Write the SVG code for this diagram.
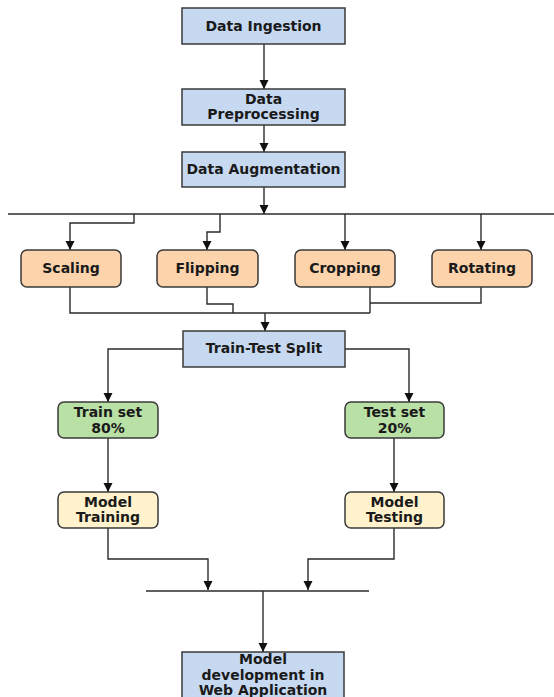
<svg xmlns="http://www.w3.org/2000/svg" width="554" height="697" viewBox="0 0 554 697">
<style>
.n{stroke:#3a3a3a;stroke-width:1.5}
.blue{fill:#c6d9f1}
.orange{fill:#fcd3aa}
.green{fill:#b9e0a5}
.yellow{fill:#fff2cc}
text{font-family:"DejaVu Sans",Verdana,sans-serif;font-weight:bold;font-size:14px;fill:#1a1a1a;text-anchor:middle}
.c path{fill:none;stroke:#2b2b2b;stroke-width:1.4}
</style>
<defs>
<marker id="ah" markerUnits="userSpaceOnUse" markerWidth="10" markerHeight="10" refX="9" refY="4.5" orient="auto">
<path d="M0,0 L9,4.5 L0,9 z" fill="#111"/>
</marker>
</defs>
<rect width="554" height="697" fill="#fff"/>
<g class="c" id="connectors">
<path d="M264,44 V89" marker-end="url(#ah)"/>
<path d="M264,125 V152" marker-end="url(#ah)"/>
<path d="M264,187 V214" marker-end="url(#ah)"/>
<path d="M8,214 H554"/>
<path d="M134,214 V223 H70 V250" marker-end="url(#ah)"/>
<path d="M220,214 V232 H207 V250" marker-end="url(#ah)"/>
<path d="M345,214 V250" marker-end="url(#ah)"/>
<path d="M481,214 V250" marker-end="url(#ah)"/>
<path d="M70,287 V313 H370"/>
<path d="M207,287 V304 H233 V313"/>
<path d="M370,287 V313"/>
<path d="M481,287 V303 H370"/>
<path d="M265,313 V331" marker-end="url(#ah)"/>
<path d="M183,349 H108 V402" marker-end="url(#ah)"/>
<path d="M345,349 H409 V402" marker-end="url(#ah)"/>
<path d="M108,438 V492" marker-end="url(#ah)"/>
<path d="M394,438 V492" marker-end="url(#ah)"/>
<path d="M108,528 V559 H208 V590" marker-end="url(#ah)"/>
<path d="M394,528 V559 H308 V590" marker-end="url(#ah)"/>
<path d="M146,591 H369"/>
<path d="M263,591 V652" marker-end="url(#ah)"/>
</g>
<g id="ingestion"><rect class="n blue" x="182" y="8" width="163" height="36"/><text x="263.5" y="31">Data Ingestion</text></g>
<g id="preprocessing"><rect class="n blue" x="182" y="89" width="163" height="36"/><text x="263.5" y="104">Data</text><text x="263.5" y="119">Preprocessing</text></g>
<g id="augmentation"><rect class="n blue" x="182" y="152" width="163" height="35"/><text x="263.5" y="174">Data Augmentation</text></g>
<g id="scaling"><rect class="n orange" x="21" y="250" width="100" height="37" rx="6"/><text x="71" y="273">Scaling</text></g>
<g id="flipping"><rect class="n orange" x="157" y="250" width="101" height="37" rx="6"/><text x="207.5" y="273">Flipping</text></g>
<g id="cropping"><rect class="n orange" x="295" y="250" width="100" height="37" rx="6"/><text x="345" y="273">Cropping</text></g>
<g id="rotating"><rect class="n orange" x="432" y="250" width="100" height="37" rx="6"/><text x="482" y="273">Rotating</text></g>
<g id="split"><rect class="n blue" x="183" y="331" width="162" height="36"/><text x="264" y="353">Train-Test Split</text></g>
<g id="trainset"><rect class="n green" x="58" y="402" width="100" height="36" rx="6"/><text x="108" y="417">Train set</text><text x="108" y="433">80%</text></g>
<g id="testset"><rect class="n green" x="345" y="402" width="99" height="36" rx="6"/><text x="394.5" y="417">Test set</text><text x="394.5" y="433">20%</text></g>
<g id="training"><rect class="n yellow" x="58" y="492" width="100" height="36" rx="6"/><text x="108" y="507">Model</text><text x="108" y="522">Training</text></g>
<g id="testing"><rect class="n yellow" x="345" y="492" width="99" height="36" rx="6"/><text x="394.5" y="507">Model</text><text x="394.5" y="522">Testing</text></g>
<g id="webapp"><rect class="n blue" x="182" y="652" width="162" height="55"/><text x="263" y="664">Model</text><text x="263" y="680">development in</text><text x="263" y="695">Web Application</text></g>
</svg>
